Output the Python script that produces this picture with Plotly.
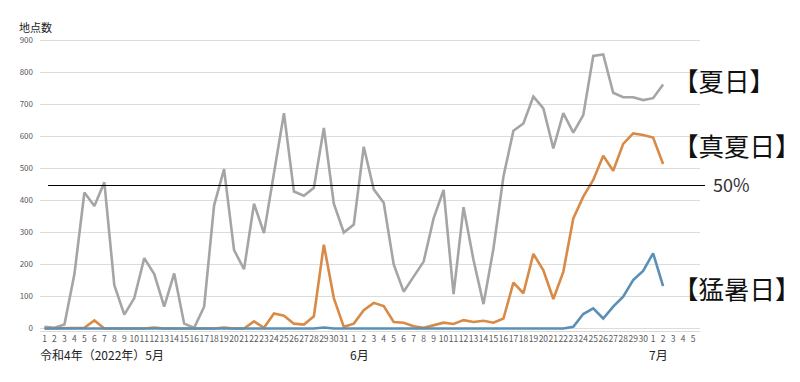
import plotly.graph_objects as go

# Days: May 1-31, June 1-30, July 1-5
day_labels = [str(d) for d in range(1, 32)] + [str(d) for d in range(1, 31)] + [str(d) for d in range(1, 6)]

natsubi = [5, 2, 12, 170, 425, 383, 457, 135, 43, 95, 220, 170, 68, 172, 15, 2,
           68, 385, 498, 245, 185, 390, 298, 485, 673, 428, 415, 440, 627, 390, 300,
           325, 568, 435, 393, 200, 115, 162, 209, 344, 433, 107, 379, 214, 76, 250,
           475, 618, 641, 725, 688, 563, 673, 612, 667, 852, 857, 737, 723, 723, 714,
           720, 763]

manatsubi = [0, 0, 0, 0, 2, 25, 0, 0, 0, 0, 0, 3, 0, 0, 0, 0,
             0, 0, 3, 0, 0, 22, 2, 47, 40, 15, 12, 38, 262, 95, 5,
             15, 57, 80, 70, 20, 18, 7, 2, 10, 18, 14, 26, 20, 24, 18,
             31, 143, 110, 233, 182, 92, 177, 344, 412, 464, 540, 493, 577, 610, 605,
             597, 514]

moushobi = [0] * 28 + [3] + [0] * 24 + [5, 45, 63, 31, 68, 99, 151, 180, 235, 132]

half_line = 447
y_ticks = list(range(0, 1000, 100))

n_days = len(day_labels)
x_all = list(range(n_days))

fig = go.Figure()
fig.add_trace(go.Scatter(x=x_all[:len(natsubi)], y=natsubi, mode="lines",
                         line=dict(color="#A5A5A5", width=2.6), name="夏日"))
fig.add_trace(go.Scatter(x=x_all[:len(manatsubi)], y=manatsubi, mode="lines",
                         line=dict(color="#D98A46", width=2.6), name="真夏日"))
fig.add_trace(go.Scatter(x=x_all[:len(moushobi)], y=moushobi, mode="lines",
                         line=dict(color="#5B90B6", width=2.6), name="猛暑日"))

# page has an 8px body margin; figure sized to fit the window
OFF = 8
FW, FH = 800 - OFF, 382 - OFF
L, R, T, B = 29, 100, 31, 51
W = FW - L - R
H = FH - T - B


def px(xp):  # page pixel -> paper x
    return (xp - OFF - L) / W


def py(yp):  # page pixel -> paper y
    return (FH - B - (yp - OFF)) / H


fig.add_shape(type="line", xref="paper", yref="y", x0=px(45), x1=px(705),
              y0=half_line, y1=half_line, line=dict(color="black", width=1.2))

font_jp = "Noto Sans CJK JP"
ann = [
    dict(text="【夏日】", x=px(671), y=py(79), size=25.5, color="#111111"),
    dict(text="【真夏日】", x=px(671), y=py(144), size=25.5, color="#111111"),
    dict(text="【猛暑日】", x=px(671), y=py(287), size=25.5, color="#111111"),
    dict(text="50%", x=px(711), y=py(184), size=18, color="#333333"),
    dict(text="地点数", x=px(14), y=py(27), size=11, color="#222222"),
    dict(text="令和4年（2022年）5月", x=px(35), y=py(355), size=12, color="#222222"),
]
for a in ann:
    fig.add_annotation(text=a["text"], xref="paper", yref="paper", x=a["x"], y=a["y"],
                       xanchor="left", yanchor="middle", showarrow=False,
                       font=dict(family=font_jp, size=a["size"], color=a["color"]))
for t, xc in [("6月", 358), ("7月", 658)]:
    fig.add_annotation(text=t, xref="paper", yref="paper", x=px(xc), y=py(355),
                       xanchor="center", yanchor="middle", showarrow=False,
                       font=dict(family=font_jp, size=12, color="#222222"))

fig.update_layout(
    width=FW, height=FH,
    margin=dict(l=L, r=R, t=T, b=B),
    paper_bgcolor="white", plot_bgcolor="white",
    showlegend=False,
    font=dict(family=font_jp),
    xaxis=dict(range=[-0.45, 65.7], tickmode="array", tickvals=x_all, ticktext=day_labels,
               tickangle=0, tickfont=dict(size=8.5, color="#595959"), showgrid=False,
               zeroline=False, showline=True, linecolor="#D9D9D9", linewidth=1,
               ticks="", fixedrange=True),
    yaxis=dict(range=[-8, 905], tickmode="array", tickvals=y_ticks,
               tickfont=dict(size=8, color="#595959"), showgrid=True,
               gridcolor="#DCDCDC", gridwidth=1, zeroline=False, ticks="",
               ticklabelstandoff=6, fixedrange=True),
)

fig.write_html("out.html")
